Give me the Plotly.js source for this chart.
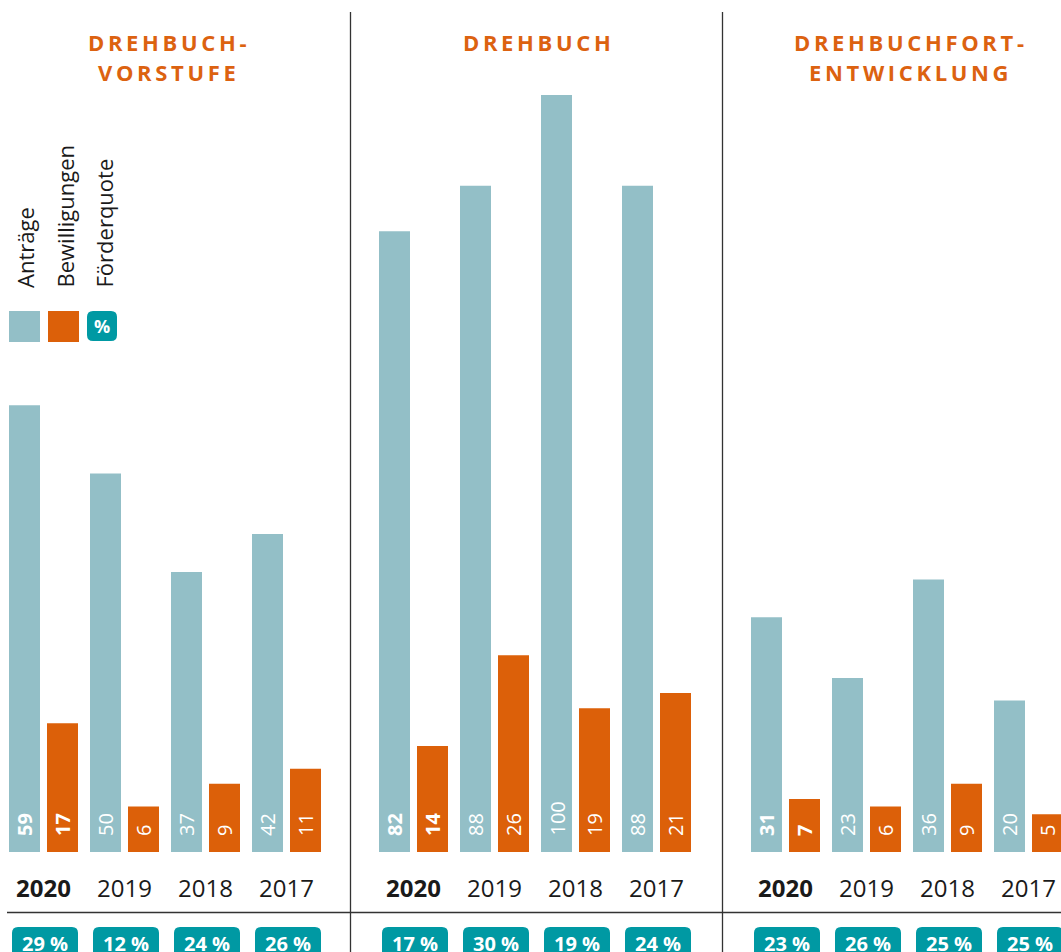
<!DOCTYPE html>
<html>
<head>
<meta charset="utf-8">
<script src="https://cdn.plot.ly/plotly-3.0.1.min.js"></script>
<style>
  html, body { margin: 0; padding: 0; background: #ffffff; }
  #chart { width: 1061px; height: 952px; }
</style>
</head>
<body>
<div id="chart"></div>
<script>
// ---------- DATA ----------
const years = ['2020', '2019', '2018', '2017'];
const panelTitles = [['DREHBUCH-', 'VORSTUFE'], ['DREHBUCH'], ['DREHBUCHFORT-', 'ENTWICKLUNG']];

const antraegeVorstufe = [59, 50, 37, 42];
const bewilligungenVorstufe = [17, 6, 9, 11];
const quoteVorstufe = [29, 12, 24, 26];

const antraegeDrehbuch = [82, 88, 100, 88];
const bewilligungenDrehbuch = [14, 26, 19, 21];
const quoteDrehbuch = [17, 30, 19, 24];

const antraegeFort = [31, 23, 36, 20];
const bewilligungenFort = [7, 6, 9, 5];
const quoteFort = [23, 26, 25, 25];

const legendLabels = ['Anträge', 'Bewilligungen', 'Förderquote'];

// ---------- STYLE / LAYOUT CONSTANTS ----------
const W = 1061, H = 952;
const BASE_PX = 852, TOP_PX = 95;          // y=0 and y=100 pixel rows
const BLUE = '#93bfc7', ORANGE = '#dc6009', TEAL = '#0099a3', TITLE = '#dc6210', INK = '#1a1a1a';
const panelStart = [9, 379, 751];          // left edge of first bar of each panel
const STEP = 81, BARW = 31, GAP = 7;
const FONT = '"Open Sans", "Noto Sans", sans-serif';

const panels = [
  {a: antraegeVorstufe, b: bewilligungenVorstufe, q: quoteVorstufe},
  {a: antraegeDrehbuch, b: bewilligungenDrehbuch, q: quoteDrehbuch},
  {a: antraegeFort, b: bewilligungenFort, q: quoteFort}
];

const py = p => (BASE_PX - p) / (BASE_PX - TOP_PX);  // pixel row -> paper y
const pxX = p => p / W;                              // pixel col -> paper x

const traces = [];
const annotations = [];
const shapes = [];

panels.forEach((pn, k) => {
  const blueX = years.map((_, i) => panelStart[k] + i * STEP + BARW / 2);
  const orangeX = blueX.map(x => x + BARW + GAP);
  traces.push({
    type: 'bar', x: blueX, y: pn.a, width: BARW,
    marker: {color: BLUE}, hoverinfo: 'skip', showlegend: false
  });
  traces.push({
    type: 'bar', x: orangeX, y: pn.b, width: BARW,
    marker: {color: ORANGE}, hoverinfo: 'skip', showlegend: false
  });
  years.forEach((yr, i) => {
    const bold = i === 0;
    const fmt = v => bold ? '<b>' + v + '</b>' : String(v);
    // values inside bars
    [[blueX[i], pn.a[i]], [orangeX[i], pn.b[i]]].forEach(([x, v]) => {
      annotations.push({
        xref: 'x', yref: 'paper', x: x, y: py(838),
        xanchor: 'center', yanchor: 'bottom', textangle: -90,
        text: fmt(v), showarrow: false,
        font: {family: FONT, size: 20, color: '#ffffff'}
      });
    });
    const mid = (blueX[i] + orangeX[i]) / 2;
    // year label
    annotations.push({
      xref: 'x', yref: 'paper', x: mid, y: py(888),
      xanchor: 'center', yanchor: 'middle', showarrow: false,
      text: fmt(yr), font: {family: FONT, size: 24, color: INK}
    });
    // quote badge
    const bx0 = mid + 1.5 - 33, bx1 = mid + 1.5 + 33, by0 = 927, by1 = 965, r = 6;
    shapes.push({
      type: 'path', xref: 'paper', yref: 'paper', layer: 'above',
      path: `M ${pxX(bx0)} ${py(by1)} L ${pxX(bx0)} ${py(by0 + r)} Q ${pxX(bx0)} ${py(by0)} ${pxX(bx0 + r)} ${py(by0)} ` +
            `L ${pxX(bx1 - r)} ${py(by0)} Q ${pxX(bx1)} ${py(by0)} ${pxX(bx1)} ${py(by0 + r)} L ${pxX(bx1)} ${py(by1)} Z`,
      fillcolor: TEAL, line: {width: 0}
    });
    annotations.push({
      xref: 'paper', yref: 'paper', x: pxX(mid + 1.5), y: py(943),
      xanchor: 'center', yanchor: 'middle', showarrow: false,
      text: '<b>' + pn.q[i] + ' %</b>', font: {family: FONT, size: 20, color: '#ffffff'}
    });
  });
  // panel title
  const center = (panelStart[k] + panelStart[k] + 3 * STEP + 2 * BARW + GAP) / 2 + 2;
  panelTitles[k].forEach((line, j) => {
    annotations.push({
      xref: 'paper', yref: 'paper', x: pxX(center), y: py(42 + j * 30),
      xanchor: 'center', yanchor: 'middle', showarrow: false,
      text: '<b>' + line.split('').join('\u2009') + '</b>',
      font: {family: FONT, size: 22, color: TITLE}
    });
  });
});

// divider lines
[350.5, 722.5].forEach(x => {
  shapes.push({type: 'line', xref: 'paper', yref: 'paper', x0: pxX(x), x1: pxX(x), y0: py(12), y1: py(H + 5),
    line: {color: '#333333', width: 1.3}});
});
shapes.push({type: 'line', xref: 'paper', yref: 'paper', x0: pxX(7), x1: pxX(W + 5), y0: py(912.5), y1: py(912.5),
  line: {color: '#333333', width: 1.3}});

// legend
const legendX = [24.5, 64, 103];
legendLabels.forEach((lab, i) => {
  annotations.push({
    xref: 'paper', yref: 'paper', x: pxX(legendX[i]), y: py(290),
    xanchor: 'center', yanchor: 'bottom', textangle: -90, showarrow: false,
    text: lab, font: {family: FONT, size: 22, color: INK}
  });
});
shapes.push({type: 'rect', xref: 'paper', yref: 'paper', x0: pxX(9), x1: pxX(40), y0: py(342), y1: py(311),
  fillcolor: BLUE, line: {width: 0}});
shapes.push({type: 'rect', xref: 'paper', yref: 'paper', x0: pxX(48), x1: pxX(79), y0: py(342), y1: py(311),
  fillcolor: ORANGE, line: {width: 0}});
(() => {
  const x0 = 87, x1 = 117, y0 = 311, y1 = 341, r = 6;
  shapes.push({
    type: 'path', xref: 'paper', yref: 'paper',
    path: `M ${pxX(x0 + r)} ${py(y0)} L ${pxX(x1 - r)} ${py(y0)} Q ${pxX(x1)} ${py(y0)} ${pxX(x1)} ${py(y0 + r)} ` +
          `L ${pxX(x1)} ${py(y1 - r)} Q ${pxX(x1)} ${py(y1)} ${pxX(x1 - r)} ${py(y1)} L ${pxX(x0 + r)} ${py(y1)} ` +
          `Q ${pxX(x0)} ${py(y1)} ${pxX(x0)} ${py(y1 - r)} L ${pxX(x0)} ${py(y0 + r)} Q ${pxX(x0)} ${py(y0)} ${pxX(x0 + r)} ${py(y0)} Z`,
    fillcolor: TEAL, line: {width: 0}
  });
  annotations.push({
    xref: 'paper', yref: 'paper', x: pxX((x0 + x1) / 2), y: py((y0 + y1) / 2),
    xanchor: 'center', yanchor: 'middle', showarrow: false,
    text: '<b>%</b>', font: {family: FONT, size: 18, color: '#ffffff'}
  });
})();

const layout = {
  width: W, height: H,
  margin: {l: 0, r: 0, t: TOP_PX, b: H - BASE_PX, pad: 0},
  paper_bgcolor: '#ffffff', plot_bgcolor: '#ffffff',
  barmode: 'overlay',
  showlegend: false,
  xaxis: {range: [0, W], visible: false, fixedrange: true},
  yaxis: {range: [0, 100], visible: false, fixedrange: true},
  shapes: shapes,
  annotations: annotations,
  font: {family: FONT}
};

Plotly.newPlot('chart', traces, layout, {displayModeBar: false, staticPlot: true});
</script>
</body>
</html>
